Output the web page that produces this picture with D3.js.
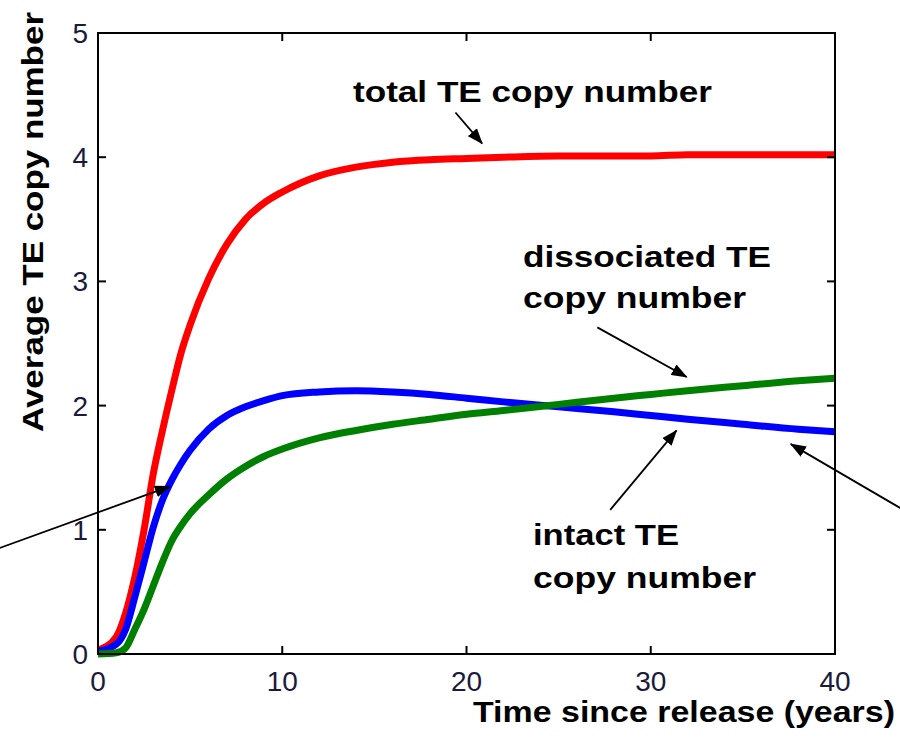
<!DOCTYPE html>
<html>
<head>
<meta charset="utf-8">
<script src="https://cdnjs.cloudflare.com/ajax/libs/d3/7.8.5/d3.min.js"></script>
<style>
  body { margin: 0; background: #fff; }
  svg { display: block; font-family: Arial, "Liberation Sans", sans-serif; }
</style>
</head>
<body>
<div id="chart_area"></div>
<script>
// years since release
var years = [0, 1, 1.5, 2, 2.5, 3, 3.5, 4, 4.5, 5, 6, 7, 8, 9, 10, 12, 14, 16, 18, 20, 22, 25, 28, 30, 32, 35, 38, 40];
var totalCopies = [0.03, 0.14, 0.33, 0.62, 1.0, 1.45, 1.80, 2.12, 2.42, 2.65, 3.02, 3.30, 3.50, 3.63, 3.72, 3.85, 3.92, 3.96, 3.98, 3.99, 4.0, 4.01, 4.01, 4.01, 4.02, 4.02, 4.02, 4.02];
var intactCopies = [0.02, 0.08, 0.2, 0.46, 0.74, 1.02, 1.24, 1.40, 1.53, 1.64, 1.81, 1.92, 1.99, 2.04, 2.08, 2.11, 2.12, 2.11, 2.09, 2.06, 2.03, 1.99, 1.95, 1.92, 1.89, 1.85, 1.81, 1.79];
var dissocCopies = [0.0, 0.01, 0.05, 0.2, 0.36, 0.55, 0.74, 0.91, 1.03, 1.13, 1.28, 1.41, 1.51, 1.59, 1.65, 1.74, 1.80, 1.85, 1.89, 1.93, 1.96, 2.01, 2.06, 2.09, 2.12, 2.16, 2.20, 2.22];
var xTicks = [0, 10, 20, 30, 40];
var yTicks = [0, 1, 2, 3, 4, 5];

// annotation arrows, in data units: [x1, y1, x2, y2]
var arrows = [
  [19.4, 4.36, 20.85, 4.11],
  [27.1, 2.63, 31.95, 2.23],
  [27.8, 1.16, 31.4, 1.80],
  [-5.4, 0.85, 3.9, 1.35],
  [43.6, 1.17, 37.6, 1.69]
];

var W = 900, H = 739;
var mLeft = 98, mRight = 835, mTop = 33, mBottom = 654;

var x = d3.scaleLinear().domain([0, 40]).range([mLeft, mRight]);
var y = d3.scaleLinear().domain([0, 5]).range([mBottom, mTop]);

var svg = d3.select("#chart_area")
    .append("svg")
    .attr("width", W)
    .attr("height", H);

svg.append("defs").append("marker")
    .attr("id", "head")
    .attr("markerUnits", "userSpaceOnUse")
    .attr("viewBox", "0 0 16 12")
    .attr("refX", 15)
    .attr("refY", 6)
    .attr("markerWidth", 16)
    .attr("markerHeight", 12)
    .attr("orient", "auto")
    .append("path")
    .attr("d", "M0,0 L16,6 L0,12 Z")
    .attr("fill", "#000");

// series
var series = [
  { vals: totalCopies, color: "#ff0000" },
  { vals: intactCopies, color: "#0000ff" },
  { vals: dissocCopies, color: "#008000" }
];

var line = d3.line()
    .x(function (d) { return x(d[0]); })
    .y(function (d) { return y(d[1]); })
    .curve(d3.curveMonotoneX);

series.forEach(function (s) {
    svg.append("path")
        .datum(years.map(function (t, i) { return [t, s.vals[i]]; }))
        .attr("d", line)
        .attr("fill", "none")
        .attr("stroke", s.color)
        .attr("stroke-width", 7);
});

// box and inward ticks
svg.append("rect")
    .attr("x", mLeft).attr("y", mTop)
    .attr("width", mRight - mLeft).attr("height", mBottom - mTop)
    .attr("fill", "none").attr("stroke", "#000").attr("stroke-width", 2);

var tickLen = 8;
var ticks = svg.append("g").attr("stroke", "#000").attr("stroke-width", 2);
xTicks.forEach(function (t) {
    ticks.append("line").attr("x1", x(t)).attr("x2", x(t)).attr("y1", mBottom).attr("y2", mBottom - tickLen);
    ticks.append("line").attr("x1", x(t)).attr("x2", x(t)).attr("y1", mTop).attr("y2", mTop + tickLen);
});
yTicks.forEach(function (v) {
    ticks.append("line").attr("x1", mLeft).attr("x2", mLeft + tickLen).attr("y1", y(v)).attr("y2", y(v));
    ticks.append("line").attr("x1", mRight).attr("x2", mRight - tickLen).attr("y1", y(v)).attr("y2", y(v));
});

svg.selectAll(".xlab")
    .data(xTicks)
    .enter()
    .append("text")
    .attr("x", function (d) { return x(d); })
    .attr("y", 691)
    .attr("text-anchor", "middle")
    .attr("font-size", 28)
    .attr("fill", "#1a1a3a")
    .text(function (d) { return d; });

svg.selectAll(".ylab")
    .data(yTicks)
    .enter()
    .append("text")
    .attr("x", 88)
    .attr("y", function (d) { return y(d); })
    .attr("dy", "0.36em")
    .attr("text-anchor", "end")
    .attr("font-size", 28)
    .attr("fill", "#1a1a3a")
    .text(function (d) { return d; });

// axis titles
svg.append("text")
    .attr("x", 473).attr("y", 722)
    .attr("font-size", 30).attr("font-weight", "bold")
    .attr("textLength", 422).attr("lengthAdjust", "spacingAndGlyphs")
    .text("Time since release (years)");

svg.append("text")
    .attr("transform", "translate(43,432) rotate(-90)")
    .attr("font-size", 30).attr("font-weight", "bold")
    .attr("textLength", 420).attr("lengthAdjust", "spacingAndGlyphs")
    .text("Average TE copy number");

// annotation labels
function label(txt, px, py, len) {
    svg.append("text")
        .attr("x", px).attr("y", py)
        .attr("font-size", 30).attr("font-weight", "bold")
        .attr("textLength", len).attr("lengthAdjust", "spacingAndGlyphs")
        .text(txt);
}
label("total TE copy number", 353, 102, 359);
label("dissociated TE", 523, 267, 248);
label("copy number", 523, 308, 223);
label("intact TE", 533, 545, 146);
label("copy number", 533, 588, 223);

svg.selectAll(".arrow")
    .data(arrows)
    .enter()
    .append("line")
    .attr("x1", function (d) { return x(d[0]); })
    .attr("y1", function (d) { return y(d[1]); })
    .attr("x2", function (d) { return x(d[2]); })
    .attr("y2", function (d) { return y(d[3]); })
    .attr("stroke", "#000")
    .attr("stroke-width", 1.8)
    .attr("marker-end", "url(#head)");
</script>
</body>
</html>
